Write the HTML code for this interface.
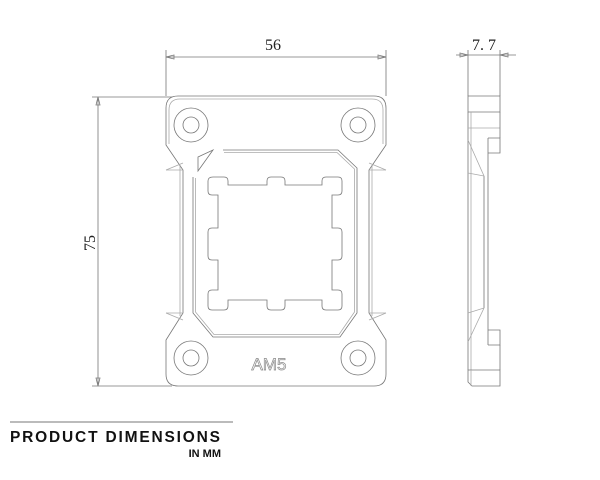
<!DOCTYPE html>
<html><head><meta charset="utf-8"><style>
html,body{margin:0;padding:0;background:#fff;width:600px;height:480px;overflow:hidden}
svg{display:block}
</style></head><body>
<svg width="600" height="480" viewBox="0 0 600 480" xmlns="http://www.w3.org/2000/svg">
<g fill="none" stroke="#777" stroke-width="0.8">
<line x1="166" y1="50" x2="166" y2="96"/>
<line x1="386" y1="50" x2="386" y2="96"/>
<line x1="166" y1="57" x2="386" y2="57"/>
<path d="M166 57 l8 -2 v4 z M386 57 l-8 -2 v4 z"/>
<line x1="92" y1="97" x2="172" y2="97"/>
<line x1="92" y1="386" x2="172" y2="386"/>
<line x1="98" y1="97" x2="98" y2="386"/>
<path d="M98 97 l-2 8 h4 z M98 386 l-2 -8 h4 z"/>
<path d="M178 96 H374 Q386 96 386 108 V145 L369 170 V313 L386 340 V374 Q386 386 374 386 H178 Q166 386 166 374 V340 L183 313 V170 L166 145 V108 Q166 96 178 96 Z"/>
<path d="M180 99 H372 Q383 99 383 110 V144 M169 144 V110 Q169 99 180 99" stroke="#aaa"/>
<path d="M166 170 H183 M369 170 H386 M166 313 H183 M369 313 H386" stroke="#aaa"/>
<path d="M166 170 L183 163 M386 170 L369 163 M166 313 L183 320 M386 313 L369 320" stroke="#aaa"/>
<line x1="180" y1="166" x2="180" y2="316" stroke="#aaa"/>
<line x1="372" y1="166" x2="372" y2="316" stroke="#aaa"/>
<circle cx="191" cy="125" r="17"/><circle cx="191" cy="125" r="8"/>
<circle cx="358" cy="125" r="17"/><circle cx="358" cy="125" r="8"/>
<circle cx="191" cy="358" r="17"/><circle cx="191" cy="358" r="8"/>
<circle cx="358" cy="358" r="17"/><circle cx="358" cy="358" r="8"/>
<path d="M223 150 H338 L357 168 V313 L340 337 H213 L193 313 V177"/>
<path d="M224 152.5 H337 L354.5 169 V312 L339 334.5 H214 L195.5 312 V178" stroke="#aaa"/>
<path d="M198 157 L213 150 L198 171 Z"/>
<path d="M213 177 H224 Q228 177 228 181 V185 H267 V181 Q267 177 271 177 H281 Q285 177 285 181 V185 H322 V181 Q322 177 326 177 H338 Q342 177 342 181 V191 Q342 195 338 195 H332 V228 H338 Q342 228 342 232 V256 Q342 260 338 260 H332 V290 H338 Q342 290 342 294 V306 Q342 310 338 310 H326 Q322 310 322 306 V300 H285 V306 Q285 310 281 310 H271 Q267 310 267 306 V300 H228 V306 Q228 310 224 310 H212 Q208 310 208 306 V294 Q208 290 212 290 H218 V260 H212 Q208 260 208 256 V232 Q208 228 212 228 H218 V195 H212 Q208 195 208 191 V181 Q208 177 213 177 Z"/>
<line x1="468" y1="50" x2="468" y2="96"/>
<line x1="500" y1="50" x2="500" y2="96"/>
<line x1="456" y1="55" x2="516" y2="55"/>
<path d="M468 55 l-8 -2 v4 z M500 55 l8 -2 v4 z"/>
<path d="M468 96 H500 V112 H468 Z"/>
<line x1="468" y1="112" x2="468" y2="370"/>
<line x1="471" y1="112" x2="471" y2="370" stroke="#aaa"/>
<line x1="468" y1="128" x2="500" y2="128" stroke="#aaa"/>
<line x1="500" y1="112" x2="500" y2="138"/>
<path d="M488 138 H500 V153 H488"/>
<line x1="488" y1="138" x2="488" y2="345"/>
<line x1="484" y1="176" x2="484" y2="308"/>
<path d="M468 140 L484 176 L468 173" stroke="#aaa"/>
<path d="M468 342 L484 308 L468 313" stroke="#aaa"/>
<path d="M488 330 H500 V345 H488"/>
<line x1="500" y1="345" x2="500" y2="370"/>
<path d="M468 370 H500 V386 H472 L468 382 Z"/>
<line x1="471" y1="370" x2="471" y2="386" stroke="#aaa"/>
</g>
<text x="269" y="370" font-family="Liberation Sans, sans-serif" font-size="17" fill="#fff" stroke="#888" stroke-width="0.7" text-anchor="middle">AM5</text>
<g font-family="Liberation Serif, serif" font-size="16" fill="#222">
<text x="273" y="50" text-anchor="middle">56</text>
<text x="484" y="50" text-anchor="middle">7. 7</text>
<text transform="translate(95,243) rotate(-90)" text-anchor="middle">75</text>
</g>
<line x1="10" y1="422" x2="233" y2="422" stroke="#777" stroke-width="1"/>
<text x="10" y="442" font-family="Liberation Sans, sans-serif" font-weight="bold" font-size="15.5" fill="#111" textLength="210">PRODUCT DIMENSIONS</text>
<text x="221" y="457" font-family="Liberation Sans, sans-serif" font-weight="bold" font-size="11" fill="#111" text-anchor="end">IN MM</text>
</svg>
</body></html>
